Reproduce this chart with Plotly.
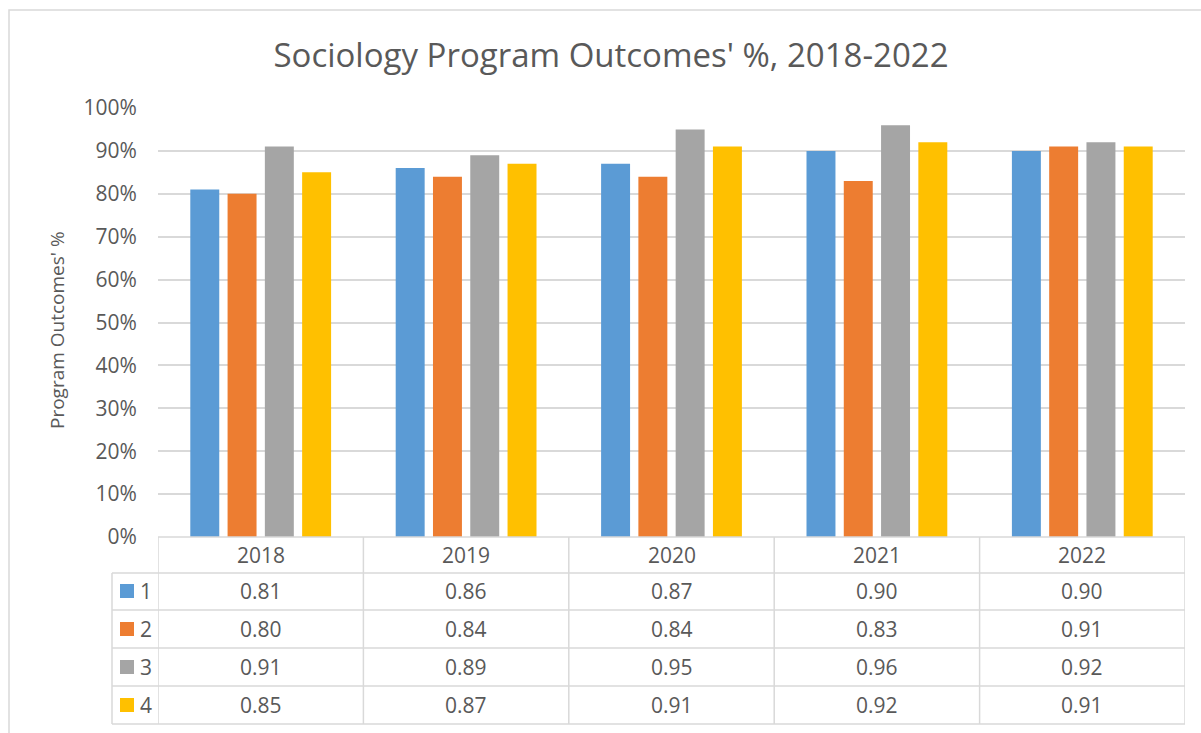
import plotly.graph_objects as go

years = ["2018", "2019", "2020", "2021", "2022"]
series_names = ["1", "2", "3", "4"]
s1 = [0.81, 0.86, 0.87, 0.90, 0.90]
s2 = [0.80, 0.84, 0.84, 0.83, 0.91]
s3 = [0.91, 0.89, 0.95, 0.96, 0.92]
s4 = [0.85, 0.87, 0.91, 0.92, 0.91]
series_values = [s1, s2, s3, s4]
colors = ["#5B9BD5", "#ED7D31", "#A5A5A5", "#FFC000"]
y_ticks = [0, 0.1, 0.2, 0.3, 0.4, 0.5, 0.6, 0.7, 0.8, 0.9, 1.0]

W, H = 1201, 733
L, R, T, B = 158, 1185, 108, 537
TXT = "#595959"
GRID = "#D9D9D9"
FONT = "Open Sans"
TSIZE = 21

def px(x):
    return (x - L) / (R - L)

def py(y):
    return (B - y) / (B - T)

fig = go.Figure()
for name, vals, c in zip(series_names, series_values, colors):
    fig.add_trace(go.Bar(x=years, y=vals, name=name, marker_color=c,
                         marker_line_width=0, showlegend=False,
                         hovertemplate="%{y:.2f}<extra>" + name + "</extra>"))

shapes = []
annotations = []
line = dict(color=GRID, width=1.5)

# horizontal table lines
shapes.append(dict(type="line", xref="paper", yref="paper", x0=0, x1=1, y0=py(B), y1=py(B), line=line))
row_edges = [573, 610, 648, 686, 724]
for ry in row_edges:
    shapes.append(dict(type="line", xref="paper", yref="paper", x0=px(112), x1=1, y0=py(ry), y1=py(ry), line=line))
# vertical lines
shapes.append(dict(type="line", xref="paper", yref="paper", x0=px(112), x1=px(112), y0=py(573), y1=py(724), line=line))
for i in range(len(years) + 1):
    shapes.append(dict(type="line", xref="x", yref="paper", x0=i - 0.5, x1=i - 0.5, y0=py(B), y1=py(724), line=line))

# header text
for i, yr in enumerate(years):
    annotations.append(dict(x=i, y=py(555), xref="x", yref="paper", text=yr, showarrow=False,
                            font=dict(family=FONT, size=TSIZE, color=TXT), xanchor="center", yanchor="middle"))
# rows
row_centers = [591, 629, 667, 705]
for name, vals, c, rc in zip(series_names, series_values, colors, row_centers):
    shapes.append(dict(type="rect", xref="paper", yref="paper", x0=px(120), x1=px(134),
                       y0=py(rc - 7), y1=py(rc + 7), fillcolor=c, line=dict(width=0)))
    annotations.append(dict(x=px(146), y=py(rc), xref="paper", yref="paper", text=name, showarrow=False,
                            font=dict(family=FONT, size=TSIZE, color=TXT), xanchor="center", yanchor="middle"))
    for i, v in enumerate(vals):
        annotations.append(dict(x=i, y=py(rc), xref="x", yref="paper", text=f"{v:.2f}", showarrow=False,
                                font=dict(family=FONT, size=TSIZE, color=TXT), xanchor="center", yanchor="middle"))

# y-axis title
annotations.append(dict(x=px(57), y=py(330), xref="paper", yref="paper", text="Program Outcomes' %",
                        textangle=-90, showarrow=False, font=dict(family=FONT, size=19, color=TXT),
                        xanchor="center", yanchor="middle"))

# chart border
shapes.append(dict(type="rect", xref="paper", yref="paper", x0=px(9), x1=px(1210), y0=py(10), y1=py(760),
                   line=dict(color="#D9D9D9", width=1.5), fillcolor="rgba(0,0,0,0)", layer="below"))

fig.update_layout(
    width=W, height=H,
    margin=dict(l=L, r=W - R, t=T, b=H - B, pad=0),
    paper_bgcolor="white", plot_bgcolor="white",
    title=dict(text="Sociology Program Outcomes' %, 2018-2022", x=611 / W, xanchor="center",
               y=1 - 55 / H, yanchor="middle", font=dict(family=FONT, size=33, color=TXT)),
    barmode="group", bargap=0.274, bargroupgap=0.223,
    xaxis=dict(type="category", showticklabels=False, showgrid=False, zeroline=False, showline=False,
               range=[-0.5, len(years) - 0.5], fixedrange=True),
    yaxis=dict(range=[0, 1.0], tickvals=y_ticks, tickformat=".0%", showgrid=True, gridcolor=GRID,
               gridwidth=1.5, zeroline=False, showline=False, ticks="outside", ticklen=16,
               tickcolor="rgba(0,0,0,0)", tickfont=dict(family=FONT, size=21, color=TXT)),
    shapes=shapes, annotations=annotations,
)
fig.write_html("out.html", config={"displayModeBar": False},
               post_script="document.body.style.margin='0';document.body.style.padding='0';")
